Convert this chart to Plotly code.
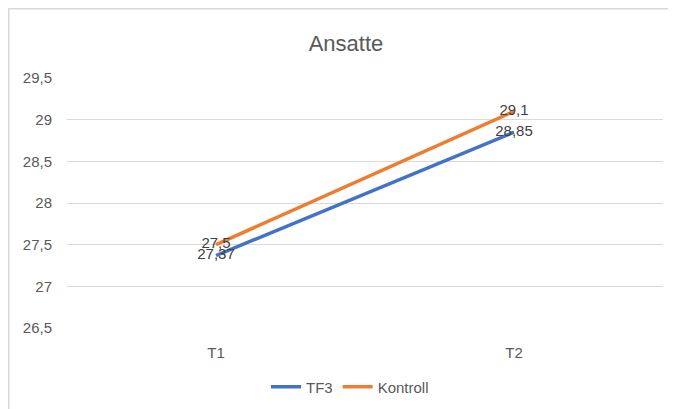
import plotly.graph_objects as go

categories = ["T1", "T2"]
tf3 = [27.37, 28.85]
kontroll = [27.5, 29.1]
tf3_labels = ["27,37", "28,85"]
kontroll_labels = ["27,5", "29,1"]
y_ticks = [26.5, 27, 27.5, 28, 28.5, 29, 29.5]
y_ticklabels = ["26,5", "27", "27,5", "28", "28,5", "29", "29,5"]

# page body has an 8px margin, so the figure is shrunk and offset accordingly
W, H = 668, 401
ml, mr, mt, mb = 59, 13, 70, 81
pw, ph = W - ml - mr, H - mt - mb

font = "Liberation Sans"
grey = "#595959"

fig = go.Figure()
fig.add_trace(go.Scatter(x=categories, y=tf3, name="TF3", mode="lines+text",
                         text=tf3_labels, textposition="middle center",
                         textfont=dict(color="#404040", size=15, family=font),
                         line=dict(color="#4472C4", width=3.5)))
fig.add_trace(go.Scatter(x=categories, y=kontroll, name="Kontroll", mode="lines+text",
                         text=kontroll_labels, textposition="middle center",
                         textfont=dict(color="#404040", size=15, family=font),
                         line=dict(color="#ED7D31", width=3.5)))

fig.update_layout(
    width=W, height=H,
    margin=dict(l=ml, r=mr, t=mt, b=mb, autoexpand=False),
    paper_bgcolor="white", plot_bgcolor="white",
    separators=", ",
    title=dict(text="Ansatte", x=338 / W, xanchor="center", y=1 - 35 / H, yanchor="middle",
               font=dict(family=font, size=22, color=grey)),
    font=dict(family=font, size=14, color=grey),
    showlegend=True,
    legend=dict(orientation="h", x=(342 - ml) / pw, xanchor="center",
                y=-(379 - (mt + ph)) / ph, yanchor="middle",
                font=dict(family=font, size=15, color=grey),
                tracegroupgap=0),
    xaxis=dict(type="category", range=[-0.5, 1.5], showgrid=False, zeroline=False,
               showline=False, ticks="", ticklabelstandoff=14,
               tickfont=dict(family=font, size=15, color=grey)),
    yaxis=dict(range=[26.5, 29.5], tickvals=y_ticks, ticktext=y_ticklabels,
               showgrid=True, gridcolor="#D9D9D9", gridwidth=1, zeroline=False,
               showline=False, ticks="", ticklabelstandoff=14,
               tickfont=dict(family=font, size=15, color=grey)),
    shapes=[dict(type="rect", xref="paper", yref="paper",
                 x0=(0.75 - ml) / pw, x1=(W + 10 - ml) / pw,
                 y0=-(H + 10 - mt - ph) / ph, y1=1 + (mt - 0.75) / ph,
                 line=dict(color="#D9D9D9", width=1.5), layer="below")],
)

fig.write_html("out.html")
